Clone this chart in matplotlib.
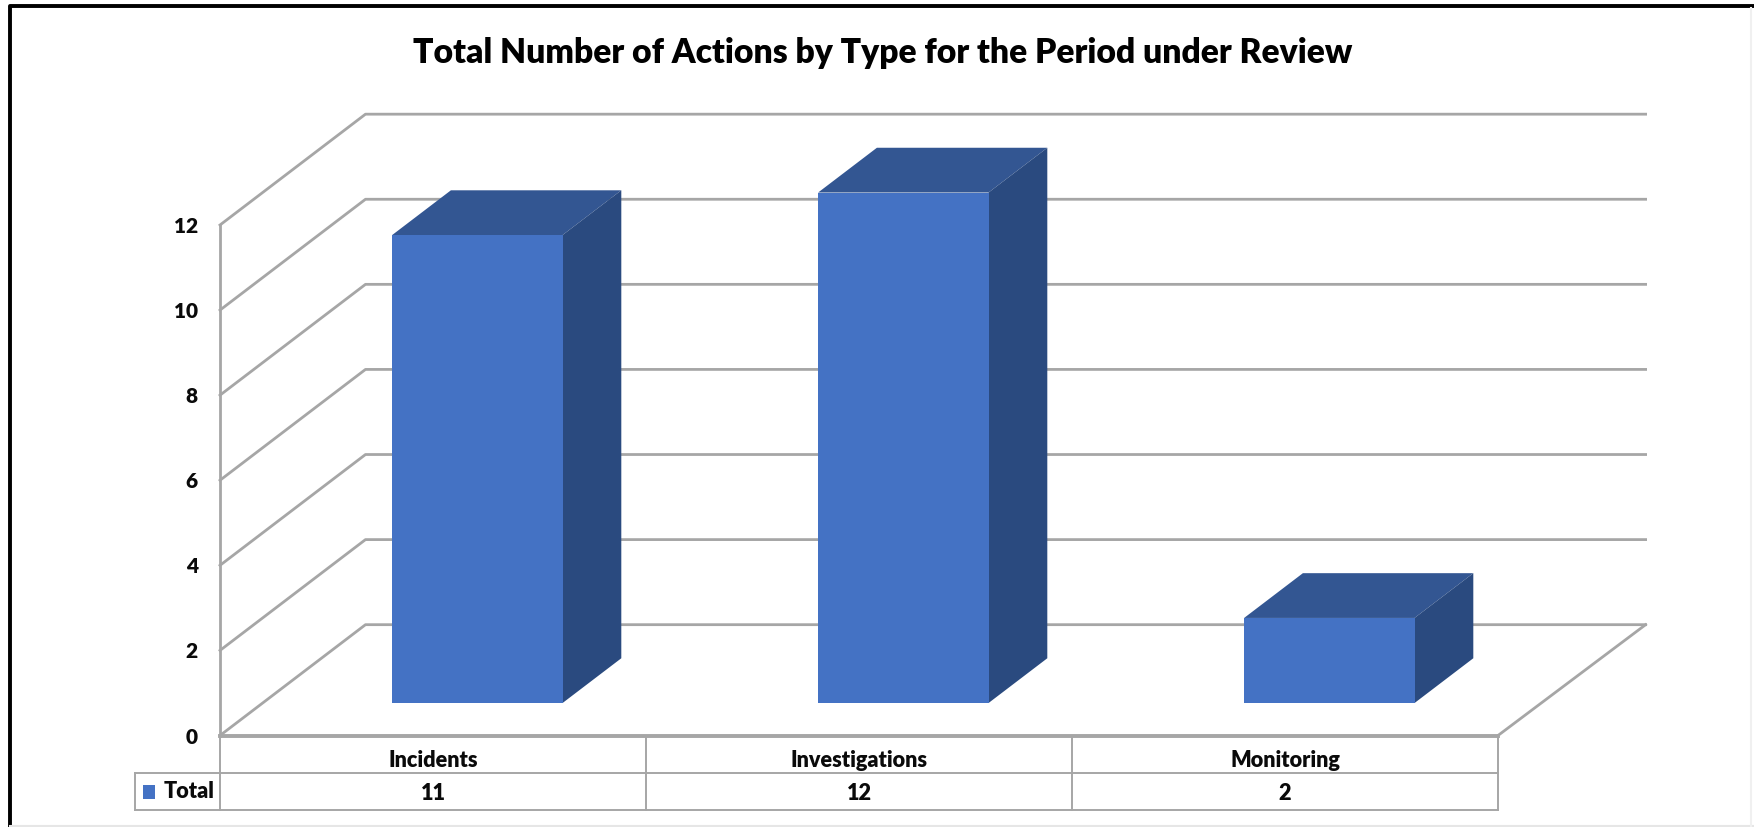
import matplotlib
matplotlib.use("Agg")
import matplotlib.pyplot as plt
from matplotlib.lines import Line2D
from matplotlib.patches import Polygon, Rectangle

categories = ["Incidents", "Investigations", "Monitoring"]
totals = [11, 12, 2]
y_ticks = [0, 2, 4, 6, 8, 10, 12]

W, H = 1754, 827
FRONT = "#4472C4"
TOP = "#335692"
SIDE = "#2A4A7F"
GRID = "#A6A6A6"
TXT = "#0A0A0A"

plt.rcParams["font.family"] = "Lato"
plt.rcParams["font.weight"] = "heavy"

fig = plt.figure(figsize=(W / 100, H / 100), dpi=100)

# plot box, pixels of the full size picture
x0, x1 = 220, 1498
y0, y12 = 735.5, 225
ax = fig.add_axes([x0 / W, 1 - y0 / H, (x1 - x0) / W, (y0 - y12) / H])
ax.set_xlim(0, 3)
ax.set_ylim(0, 12)
for s in ax.spines.values():
    s.set_visible(False)
ax.patch.set_visible(False)

# 3d look: shift per unit of depth, in data units
dx = 0.3415
dy = 2.605


def proj(x, y, d):
    return x + dx * d, y + dy * d


# walls
for v in y_ticks:
    xa, ya = proj(0, v, 1)
    xb, yb = proj(3.005, v, 1)
    ax.plot([0, xa, xb], [v, ya, yb], color=GRID, lw=2.0, clip_on=False, zorder=1)
ax.plot([0, 0], [0, 12], color=GRID, lw=2.0, clip_on=False, zorder=1)

# floor
xa, ya = proj(3.005, 0, 1)
ax.plot([3, xa], [0, ya], color=GRID, lw=2.0, clip_on=False, zorder=1)
ax.plot([0, 3], [0, 0], color=GRID, lw=2.8, clip_on=False, zorder=1)

# bars
bar_w = 0.4
bar_shift = 0.004
d1, d2 = 0.293, 0.697
for i, v in enumerate(totals):
    l = i + 0.5 + bar_shift - bar_w / 2
    r = i + 0.5 + bar_shift + bar_w / 2
    front = [proj(l, 0, d1), proj(r, 0, d1), proj(r, v, d1), proj(l, v, d1)]
    top = [proj(l, v, d1), proj(r, v, d1), proj(r, v, d2), proj(l, v, d2)]
    side = [proj(r, 0, d1), proj(r, 0, d2), proj(r, v, d2), proj(r, v, d1)]
    ax.add_patch(Polygon(top, fc=TOP, ec="none", clip_on=False, zorder=3))
    ax.add_patch(Polygon(side, fc=SIDE, ec="none", clip_on=False, zorder=3))
    ax.add_patch(Polygon(front, fc=FRONT, ec="none", clip_on=False, zorder=4))

ax.set_yticks(y_ticks)
ax.set_yticklabels([str(v) for v in y_ticks], fontsize=15, color=TXT)
ax.tick_params(axis="y", length=0, pad=16)
ax.set_xticks([])

# data table under the plot
row = 0.88
tab_left = -0.2
tc = dict(color=GRID, lw=1.4, clip_on=False, zorder=1)
ax.plot([tab_left, 3], [-row, -row], **tc)
ax.plot([tab_left, 3], [-2 * row, -2 * row], **tc)
ax.plot([tab_left, tab_left], [-row, -2 * row], **tc)
for c in range(4):
    ax.plot([c, c], [0, -2 * row], **tc)
for i, name in enumerate(categories):
    ax.text(i + 0.5, -row * 0.66, name, ha="center", va="center", fontsize=15.6, color=TXT)
    ax.text(i + 0.5, -1.56 * row, str(totals[i]), ha="center", va="center", fontsize=15.6, color=TXT)
ax.add_patch(Rectangle((-0.181, -1.5), 0.029, 0.34, fc=FRONT, ec="none", clip_on=False))
ax.text(-0.014, -1.5 * row, "Total", ha="right", va="center", fontsize=15.6, color=TXT)

fig.text(883 / W, 1 - 53 / H, "Total Number of Actions by Type for the Period under Review",
         ha="center", va="center", fontsize=24.2, color="black")

# border of the picture: black on top and left, faint on the other two sides
fig.add_artist(Line2D([10 / W, 10 / W, 1], [0, 1 - 6 / H, 1 - 6 / H], color="black", lw=2.8))
fig.add_artist(Line2D([10 / W, 1], [1 / H, 1 / H], color="#E6E6E6", lw=1.5))
fig.add_artist(Line2D([1751 / W, 1751 / W], [0, 1 - 8 / H], color="#F0F0F0", lw=1.5))

fig.savefig("out.png", dpi=100)
